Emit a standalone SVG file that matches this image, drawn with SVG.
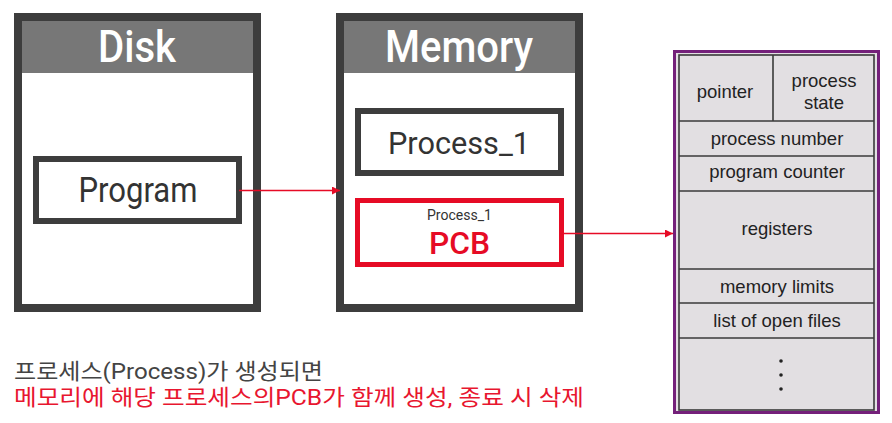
<svg xmlns="http://www.w3.org/2000/svg" width="892" height="423" viewBox="0 0 892 423">
<style>
.frame{fill:#ffffff;stroke:#3d3d3d;stroke-width:8}
.head{fill:#777777}
.htxt{font-family:Roboto,"Liberation Sans",Arial,sans-serif;font-weight:500;font-size:44px;fill:#ffffff;text-anchor:middle}
.box{fill:#ffffff;stroke:#3d3d3d;stroke-width:6}
.btxt{font-family:Roboto,"Liberation Sans",Arial,sans-serif;font-weight:400;fill:#333333;text-anchor:middle}
.pcb{fill:#ffffff;stroke:#e60b25;stroke-width:5}
.tbl{font-family:"Liberation Sans",Arial,sans-serif;font-size:18.5px;fill:#222222;text-anchor:middle}
.cell{fill:none;stroke:#3a3a3a;stroke-width:1.6}
.conn{stroke:#e60b25;stroke-width:1.3;fill:none}
.kr{font-family:Roboto,"Noto Sans CJK KR",sans-serif;font-size:22px}
</style>
<defs>
<marker id="ah" viewBox="0 0 8 8" refX="8" refY="4" markerWidth="8" markerHeight="8" markerUnits="userSpaceOnUse" orient="auto">
<path d="M0,0 L8,4 L0,8 Z" fill="#e60b25"/>
</marker>
</defs>
<rect width="892" height="423" fill="#ffffff"/>

<g id="disk">
<rect class="frame" x="18" y="17" width="239" height="291"/>
<rect class="head" x="22" y="21" width="231" height="52"/>
<text class="htxt" x="137" y="62" textLength="78" lengthAdjust="spacingAndGlyphs">Disk</text>
</g>

<g id="program">
<rect class="box" x="36" y="159" width="203" height="62"/>
<text class="btxt" x="138" y="202" font-size="35" textLength="119" lengthAdjust="spacingAndGlyphs">Program</text>
</g>

<g id="memory">
<rect class="frame" x="340" y="17" width="239" height="291"/>
<rect class="head" x="344" y="21" width="231" height="52"/>
<text class="htxt" x="459" y="62" textLength="148" lengthAdjust="spacingAndGlyphs">Memory</text>
</g>

<g id="process1">
<rect class="box" x="358" y="111" width="203" height="62"/>
<text class="btxt" x="459" y="154" font-size="32" textLength="142" lengthAdjust="spacingAndGlyphs">Process_1</text>
</g>

<g id="pcb">
<rect class="pcb" x="357.5" y="200.5" width="204" height="64"/>
<text class="btxt" x="459.5" y="220" font-size="14" textLength="65" lengthAdjust="spacingAndGlyphs">Process_1</text>
<text x="459.5" y="254" font-family="Roboto,Liberation Sans,Arial,sans-serif" font-weight="500" font-size="31" fill="#e60b25" text-anchor="middle" textLength="61" lengthAdjust="spacingAndGlyphs">PCB</text>
</g>

<g id="pcb-table">
<rect x="674.5" y="51.5" width="204" height="361" fill="#e2dfe2" stroke="#74207a" stroke-width="3"/>
<rect class="cell" x="679" y="55" width="195" height="355"/>
<line class="cell" x1="773" y1="55" x2="773" y2="121"/>
<line class="cell" x1="679" y1="121" x2="874" y2="121"/>
<line class="cell" x1="679" y1="156" x2="874" y2="156"/>
<line class="cell" x1="679" y1="191" x2="874" y2="191"/>
<line class="cell" x1="679" y1="269" x2="874" y2="269"/>
<line class="cell" x1="679" y1="303" x2="874" y2="303"/>
<line class="cell" x1="679" y1="338" x2="874" y2="338"/>
<text class="tbl" x="725" y="98">pointer</text>
<text class="tbl" x="824" y="87">process</text>
<text class="tbl" x="824" y="109">state</text>
<text class="tbl" x="777" y="145">process number</text>
<text class="tbl" x="777" y="178">program counter</text>
<text class="tbl" x="777" y="235">registers</text>
<text class="tbl" x="777" y="293">memory limits</text>
<text class="tbl" x="777" y="327">list of open files</text>
<circle cx="781" cy="361" r="1.8" fill="#222"/>
<circle cx="781" cy="375" r="1.8" fill="#222"/>
<circle cx="781" cy="389" r="1.8" fill="#222"/>
</g>

<g id="connectors">
<line class="conn" x1="239" y1="190.5" x2="340" y2="190.5" marker-end="url(#ah)"/>
<line class="conn" x1="561" y1="233.5" x2="673" y2="233.5" marker-end="url(#ah)"/>
</g>

<g id="caption">
<text class="kr" x="14" y="379" fill="#444444" textLength="309" lengthAdjust="spacingAndGlyphs">프로세스(Process)가 생성되면</text>
<text class="kr" x="14" y="405" fill="#e8162f" textLength="570" lengthAdjust="spacingAndGlyphs">메모리에 해당 프로세스의PCB가 함께 생성, 종료 시 삭제</text>
</g>
</svg>
